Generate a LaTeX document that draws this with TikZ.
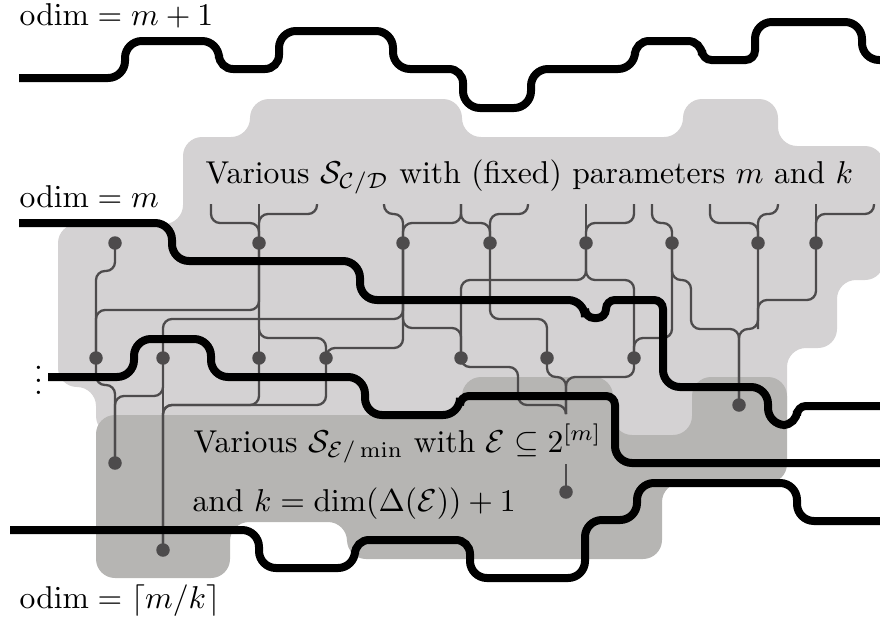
\documentclass[tikz,border=0pt]{standalone}
\usepackage{amsmath}
\definecolor{regionlight}{HTML}{D4D2D3}
\definecolor{regiondark}{HTML}{B6B5B3}
\definecolor{wirecol}{HTML}{4D4B4C}
\tikzset{
  region/.style={rounded corners=19pt,line width=0pt},
  heavy/.style={draw=black,line width=8pt,rounded corners=17pt},
  wire/.style={draw=wirecol,line width=2.3pt,rounded corners=9pt},
  dot/.style={circle,fill=wirecol,minimum size=13.5pt,inner sep=0pt},
  lab/.style={scale=3.16,inner sep=0pt,anchor=base west}
}
\begin{document}
\begin{tikzpicture}[x=1pt,y=-1pt]
\useasboundingbox (0,0) rectangle (880,621);
\clip (0,0) rectangle (880,621);
% regions
\fill[regionlight,region] (250,99) -- (462,99) -- (462,137) -- (683,137) -- (683,99) -- (778,99) -- (778,146) -- (884,146) -- (884,280) -- (837,280) -- (837,348) -- (787,348) -- (787,435) -- (96,435) -- (96,387) -- (58,387) -- (58,224) -- (183,224) -- (183,137) -- (250,137) -- cycle;
\fill[regiondark,region] (96,415) -- (462,415) -- (462,377) -- (613,377) -- (613,435) -- (692,435) -- (692,377) -- (787,377) -- (787,483) -- (662,483) -- (662,559) -- (347,559) -- (347,522) -- (230,522) -- (230,578) -- (96,578) -- cycle;
% dots
\foreach \nm/\px/\py in {a1/115/243,a2/259/243,a3/403/243,a4/490/243,a5/586/243,a6/672/243,a7/758/243,a8/816/243,
  b1/96/358,b2/163/358,b3/259/358,b4/326/358,b5/461/358,b6/547/358,b7/634/358,
  c1/115/463,c2/163/550,c3/566/492,c4/739/405}{
  \node[dot] (\nm) at (\px,\py) {};
}
% free ends
\foreach \nm/\px in {t1/211,t2/259,t3/317,t4/384,t5/461,t6/528,t7/586,t8/634,t9/652,t10/710,t11/778,t12/816,t13/874}{
  \coordinate (\nm) at (\px,204);
}
\coordinate (j1) at (566,414);
\coordinate (j2) at (566,464);
% wires from the top row
\draw[wire] (t1) -- (211,223) -- (259,223) -- (a2.center);
\draw[wire] (t2) -- (a2.center);
\draw[wire] (t3) -- (317,214) -- (259,214) -- (a2.center);
\draw[wire] (t4) -- (384,214) -- (403,214) -- (a3.center);
\draw[wire] (t5) -- (461,223) -- (403,223) -- (a3.center);
\draw[wire] (t5) -- (461,223) -- (490,223) -- (a4.center);
\draw[wire] (t6) -- (528,214) -- (490,214) -- (a4.center);
\draw[wire] (t7) -- (a5.center);
\draw[wire] (t8) -- (634,223) -- (586,223) -- (a5.center);
\draw[wire] (t9) -- (652,223) -- (672,223) -- (a6.center);
\draw[wire] (t10) -- (710,223) -- (758,223) -- (a7.center);
\draw[wire] (t11) -- (778,214) -- (758,214) -- (a7.center);
\draw[wire] (t12) -- (a8.center);
\draw[wire] (t13) -- (874,214) -- (816,214) -- (a8.center);
% wires to the middle row
\draw[wire] (a1.center) -- (115,271) -- (96,271) -- (b1.center);
\draw[wire] (a2.center) -- (259,310) -- (96,310) -- (b1.center);
\draw[wire] (a2.center) -- (259,338) -- (326,338) -- (b4.center);
\draw[wire] (a2.center) -- (b3.center);
\draw[wire] (a3.center) -- (403,319) -- (163,319) -- (b2.center);
\draw[wire] (a3.center) -- (403,328) -- (461,328) -- (b5.center);
\draw[wire] (a3.center) -- (403,348) -- (326,348) -- (b4.center);
\draw[wire] (a4.center) -- (490,319) -- (547,319) -- (b6.center);
\draw[wire] (a5.center) -- (586,280) -- (461,280) -- (b5.center);
\draw[wire] (a5.center) -- (586,280) -- (634,280) -- (b7.center);
\draw[wire] (a6.center) -- (672,338) -- (634,338) -- (b7.center);
% wires to the lower row
\draw[wire] (a6.center) -- (672,280) -- (691,280) -- (691,329) -- (739,329) -- (c4.center);
\draw[wire] (a7.center) -- (758,329) -- (739,329) -- (c4.center);
\draw[wire] (a8.center) -- (816,300) -- (758,300) -- (758,329);
\draw[wire] (b1.center) -- (96,385) -- (115,385) -- (c1.center);
\draw[wire] (b2.center) -- (163,396) -- (115,396) -- (c1.center);
\draw[wire] (b2.center) -- (c2.center);
\draw[wire] (b3.center) -- (259,405) -- (163,405) -- (c2.center);
\draw[wire] (b4.center) -- (326,405) -- (163,405) -- (c2.center);
\draw[wire] (b5.center) -- (461,367) -- (518,367) -- (518,405) -- (566,405) -- (j1);
\draw[wire] (b6.center) -- (547,377) -- (566,377) -- (j1);
\draw[wire] (b7.center) -- (634,377) -- (566,377) -- (j1);
\draw[wire,rounded corners=0pt] (j2) -- (c3.center);
% heavy lines
\coordinate (h1s) at (19,78); \coordinate (h1e) at (884,60);
\coordinate (h2s) at (19,223); \coordinate (h2e) at (884,406);
\coordinate (h3s) at (48,377); \coordinate (h3e) at (884,463);
\coordinate (h4s) at (10,530); \coordinate (h4e) at (884,521);
\draw[heavy] (h1s) -- (125,78) -- (125,41) -- (219,41) [rounded corners=14pt] -- (219,69) -- (279,69) [rounded corners=17pt] -- (279,31) -- (393,31) -- (393,69) [rounded corners=14pt] -- (463,69) [rounded corners=17pt] -- (463,108) -- (531,108) -- (531,69) -- (635,69) [rounded corners=14pt] -- (635,41) -- (702,41) [rounded corners=9.5pt] -- (702,60) -- (755,60) [rounded corners=17pt] -- (755,22) -- (862,22) -- (862,60) -- (h1e);
\draw[heavy] (h2s) -- (172,223) -- (172,261) -- (360,261) -- (360,300) -- (585,300) [rounded corners=9pt] -- (585,318) -- (606,318) -- (606,300) -- (663,300) [rounded corners=17pt] -- (663,387) -- (768,387) -- (768,425) [rounded corners=14pt] -- (797,425) [rounded corners=9pt] -- (797,406) -- (h2e);
\draw[heavy] (h3s) -- (134,377) -- (134,339) -- (211,339) -- (211,377) -- (365,377) -- (365,415) -- (460,415) [rounded corners=9pt] -- (460,396) -- (615,396) [rounded corners=17pt] -- (615,463) -- (h3e);
\draw[heavy] (h4s) -- (259,530) -- (259,568) -- (355,568) [rounded corners=14pt] -- (355,540) -- (470,540) [rounded corners=17pt] -- (470,578) -- (585,578) -- (585,520) -- (637,520) -- (637,483) -- (797,483) -- (797,521) -- (h4e);
% text
\node[lab] (l1) at (19,25) {$\mathrm{odim}=m+1$};
\node[lab] (l2) at (19,207) {$\mathrm{odim}=m$};
\node[lab] (l3) at (19,608) {$\mathrm{odim}=\lceil m/k\rceil$};
\node[lab] (l4) at (205,183) {Various $\mathcal{S}_{\mathcal{C}/\mathcal{D}}$ with (fixed) parameters $m$ and $k$};
\node[lab] (l5) at (193,452) {Various $\mathcal{S}_{\mathcal{E}/\min}$ with $\mathcal{E}\subseteq 2^{[m]}$};
\node[lab] (l6) at (192,511) {and $k=\dim(\Delta(\mathcal{E}))+1$};
\node[lab,anchor=center] (l7) at (38.5,371) {$\vdots$};
\end{tikzpicture}
\end{document}
